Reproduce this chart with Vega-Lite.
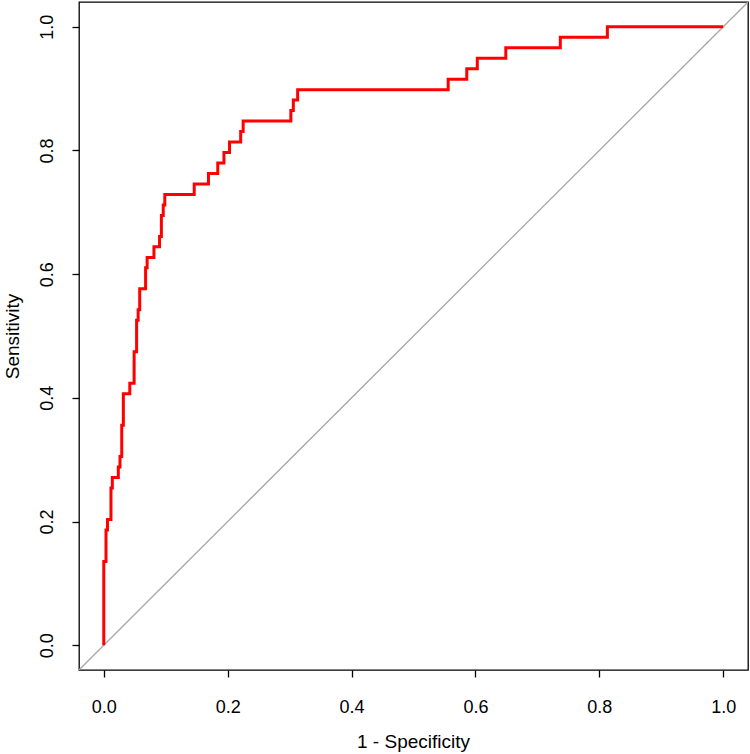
{
  "$schema": "https://vega.github.io/schema/vega-lite/v6.json",
  "width": 669,
  "height": 668,
  "autosize": "none",
  "padding": {"left": 79, "top": 2, "right": 2, "bottom": 84},
  "background": "white",
  "datasets": {
    "diag": [
      {"fpr": -0.04, "tpr": -0.04, "i": 0},
      {"fpr": 1.04, "tpr": 1.04, "i": 1}
    ],
    "roc": [
      {"fpr": 0, "tpr": 0, "i": 0},
      {"fpr": 0, "tpr": 0.1356, "i": 1},
      {"fpr": 0.0036, "tpr": 0.1356, "i": 2},
      {"fpr": 0.0036, "tpr": 0.1864, "i": 3},
      {"fpr": 0.006, "tpr": 0.1864, "i": 4},
      {"fpr": 0.006, "tpr": 0.2034, "i": 5},
      {"fpr": 0.0116, "tpr": 0.2034, "i": 6},
      {"fpr": 0.0116, "tpr": 0.2542, "i": 7},
      {"fpr": 0.0138, "tpr": 0.2542, "i": 8},
      {"fpr": 0.0138, "tpr": 0.2712, "i": 9},
      {"fpr": 0.0235, "tpr": 0.2712, "i": 10},
      {"fpr": 0.0235, "tpr": 0.2881, "i": 11},
      {"fpr": 0.0262, "tpr": 0.2881, "i": 12},
      {"fpr": 0.0262, "tpr": 0.3051, "i": 13},
      {"fpr": 0.029, "tpr": 0.3051, "i": 14},
      {"fpr": 0.029, "tpr": 0.3559, "i": 15},
      {"fpr": 0.0316, "tpr": 0.3559, "i": 16},
      {"fpr": 0.0316, "tpr": 0.4068, "i": 17},
      {"fpr": 0.042, "tpr": 0.4068, "i": 18},
      {"fpr": 0.042, "tpr": 0.4237, "i": 19},
      {"fpr": 0.049, "tpr": 0.4237, "i": 20},
      {"fpr": 0.049, "tpr": 0.4746, "i": 21},
      {"fpr": 0.053, "tpr": 0.4746, "i": 22},
      {"fpr": 0.053, "tpr": 0.5254, "i": 23},
      {"fpr": 0.0555, "tpr": 0.5254, "i": 24},
      {"fpr": 0.0555, "tpr": 0.5424, "i": 25},
      {"fpr": 0.058, "tpr": 0.5424, "i": 26},
      {"fpr": 0.058, "tpr": 0.5763, "i": 27},
      {"fpr": 0.0675, "tpr": 0.5763, "i": 28},
      {"fpr": 0.0675, "tpr": 0.6102, "i": 29},
      {"fpr": 0.07, "tpr": 0.6102, "i": 30},
      {"fpr": 0.07, "tpr": 0.6271, "i": 31},
      {"fpr": 0.081, "tpr": 0.6271, "i": 32},
      {"fpr": 0.081, "tpr": 0.6441, "i": 33},
      {"fpr": 0.09, "tpr": 0.6441, "i": 34},
      {"fpr": 0.09, "tpr": 0.661, "i": 35},
      {"fpr": 0.093, "tpr": 0.661, "i": 36},
      {"fpr": 0.093, "tpr": 0.6949, "i": 37},
      {"fpr": 0.096, "tpr": 0.6949, "i": 38},
      {"fpr": 0.096, "tpr": 0.7119, "i": 39},
      {"fpr": 0.0985, "tpr": 0.7119, "i": 40},
      {"fpr": 0.0985, "tpr": 0.7288, "i": 41},
      {"fpr": 0.146, "tpr": 0.7288, "i": 42},
      {"fpr": 0.146, "tpr": 0.7458, "i": 43},
      {"fpr": 0.169, "tpr": 0.7458, "i": 44},
      {"fpr": 0.169, "tpr": 0.7627, "i": 45},
      {"fpr": 0.184, "tpr": 0.7627, "i": 46},
      {"fpr": 0.184, "tpr": 0.7797, "i": 47},
      {"fpr": 0.194, "tpr": 0.7797, "i": 48},
      {"fpr": 0.194, "tpr": 0.7966, "i": 49},
      {"fpr": 0.203, "tpr": 0.7966, "i": 50},
      {"fpr": 0.203, "tpr": 0.8136, "i": 51},
      {"fpr": 0.221, "tpr": 0.8136, "i": 52},
      {"fpr": 0.221, "tpr": 0.8305, "i": 53},
      {"fpr": 0.225, "tpr": 0.8305, "i": 54},
      {"fpr": 0.225, "tpr": 0.8475, "i": 55},
      {"fpr": 0.302, "tpr": 0.8475, "i": 56},
      {"fpr": 0.302, "tpr": 0.8644, "i": 57},
      {"fpr": 0.306, "tpr": 0.8644, "i": 58},
      {"fpr": 0.306, "tpr": 0.8814, "i": 59},
      {"fpr": 0.313, "tpr": 0.8814, "i": 60},
      {"fpr": 0.313, "tpr": 0.8983, "i": 61},
      {"fpr": 0.556, "tpr": 0.8983, "i": 62},
      {"fpr": 0.556, "tpr": 0.9153, "i": 63},
      {"fpr": 0.586, "tpr": 0.9153, "i": 64},
      {"fpr": 0.586, "tpr": 0.9322, "i": 65},
      {"fpr": 0.603, "tpr": 0.9322, "i": 66},
      {"fpr": 0.603, "tpr": 0.9492, "i": 67},
      {"fpr": 0.649, "tpr": 0.9492, "i": 68},
      {"fpr": 0.649, "tpr": 0.9661, "i": 69},
      {"fpr": 0.737, "tpr": 0.9661, "i": 70},
      {"fpr": 0.737, "tpr": 0.9831, "i": 71},
      {"fpr": 0.813, "tpr": 0.9831, "i": 72},
      {"fpr": 0.813, "tpr": 1, "i": 73},
      {"fpr": 1, "tpr": 1, "i": 74}
    ]
  },
  "encoding": {
    "x": {
      "field": "fpr",
      "type": "quantitative",
      "scale": {"domain": [-0.04, 1.04], "nice": false, "zero": false},
      "axis": {
        "title": "1 - Specificity",
        "values": [0, 0.2, 0.4, 0.6, 0.8, 1],
        "format": ".1f",
        "labelPadding": 21,
        "titleX": 334,
        "titleY": 62,
        "titleBaseline": "top",
        "titleAlign": "center"
      }
    },
    "y": {
      "field": "tpr",
      "type": "quantitative",
      "scale": {"domain": [-0.04, 1.04], "nice": false, "zero": false},
      "axis": {
        "title": "Sensitivity",
        "values": [0, 0.2, 0.4, 0.6, 0.8, 1],
        "format": ".1f",
        "labelAngle": -90,
        "labelAlign": "center",
        "labelBaseline": "bottom",
        "labelPadding": 16,
        "titleAngle": -90,
        "titleX": -76,
        "titleY": 334,
        "titleBaseline": "top",
        "titleAlign": "center"
      }
    },
    "order": {"field": "i", "type": "quantitative"}
  },
  "layer": [
    {
      "data": {"name": "diag"},
      "mark": {"type": "line", "color": "#a6a6a6", "strokeWidth": 1.3, "clip": true}
    },
    {
      "data": {"name": "roc"},
      "mark": {"type": "line", "color": "#ff0000", "strokeWidth": 3, "clip": true}
    }
  ],
  "config": {
    "font": "Liberation Sans",
    "view": {"stroke": "black", "strokeWidth": 1.3},
    "axis": {
      "grid": false,
      "domain": false,
      "tickSize": 7,
      "tickColor": "black",
      "tickWidth": 1.3,
      "labelFontSize": 18,
      "labelColor": "black",
      "labelFont": "Liberation Sans",
      "titleFont": "Liberation Sans",
      "titleFontSize": 19,
      "titleFontWeight": "normal",
      "titleColor": "black",
      "labelFlush": false,
      "labelOverlap": false
    }
  }
}
